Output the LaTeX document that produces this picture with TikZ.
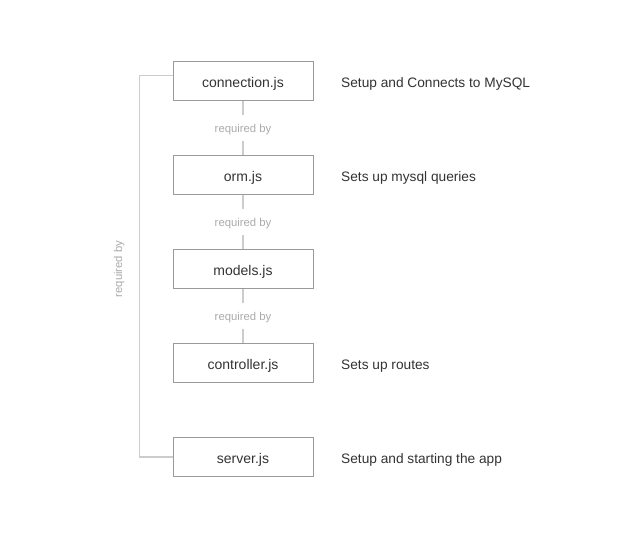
\documentclass[tikz,border=0pt]{standalone}
\usepackage{fontspec}
\setmainfont{Liberation Sans}
\begin{document}
\begin{tikzpicture}[x=1pt,y=-1pt,
  box/.style={draw=boxgray, line width=1pt, minimum width=140pt, minimum height=39pt, inner sep=0pt, text height=12pt, text depth=0pt, font=\fontsize{14}{16}\selectfont, text=textdark},
  desc/.style={anchor=west, inner sep=0pt, text height=12pt, text depth=0pt, font=\fontsize{13.7}{16}\selectfont, text=textdark},
  link/.style={draw=linkgray, line width=1.7pt},
  req/.style={fill=white, inner xsep=2pt, inner ysep=8pt, text height=9pt, text depth=1pt, font=\fontsize{11.3}{13}\selectfont, text=reqgray}
]
\definecolor{boxgray}{HTML}{9A9A9A}
\definecolor{linkgray}{HTML}{CCCCCC}
\definecolor{reqgray}{HTML}{ABABAB}
\definecolor{textdark}{HTML}{333333}
\useasboundingbox[fill=white] (0,0) rectangle (636,557);

\node[box] (conn) at (243,81) {connection.js};
\node[box] (orm) at (243,175) {orm.js};
\node[box] (models) at (243,269) {models.js};
\node[box] (ctrl) at (243,363) {controller.js};
\node[box] (server) at (243,457) {server.js};

\node[desc] (d1) at (341,81) {Setup and Connects to MySQL};
\node[desc] (d2) at (341,175) {Sets up mysql queries};
\node[desc] (d4) at (341,363) {Sets up routes};
\node[desc] (d5) at (341,457) {Setup and starting the app};

\draw[link] (conn.south) -- node[req] {required by} (orm.north);
\draw[link] (orm.south) -- node[req] {required by} (models.north);
\draw[link] (models.south) -- node[req] {required by} (ctrl.north);

\draw[link] ([yshift=5.5pt]conn.west) -- ++(-33,0) |- (server.west);
\node[rotate=90, inner sep=0pt, text height=9pt, text depth=1pt, font=\fontsize{11.3}{13}\selectfont, text=reqgray] (side) at (118,269) {required by};
\end{tikzpicture}
\end{document}
